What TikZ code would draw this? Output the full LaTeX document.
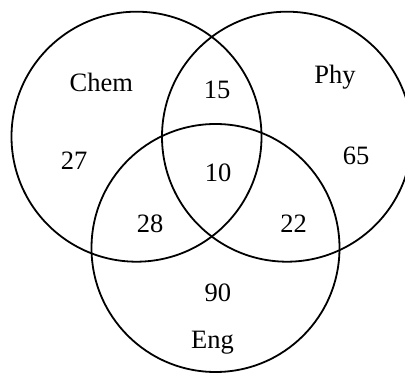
\documentclass[tikz,border=0pt]{standalone}
\usepackage{fontspec}
\setmainfont{Liberation Serif}
\begin{document}
\begin{tikzpicture}[x=1pt,y=-1pt,
  ring/.style={draw=black,line width=1.8pt},
  lbl/.style={anchor=base,inner sep=0pt,font=\fontsize{26.5}{26.5}\selectfont}]
\useasboundingbox (0,0) rectangle (405,374);
\draw[ring] (136.5,136.7) circle[radius=125];
\draw[ring] (287,136.7) circle[radius=125];
\draw[ring] (215.5,248) circle[radius=124];
\node[lbl] (chem) at (101.3,91.7) {Chem};
\node[lbl] (phy) at (335,83.3) {Phy};
\node[lbl] (eng) at (212.5,348.3) {Eng};
\node[lbl] (a) at (217,99) {15};
\node[lbl] (b) at (74,170) {27};
\node[lbl] (c) at (218,182) {10};
\node[lbl] (d) at (356,165) {65};
\node[lbl] (e) at (150,233) {28};
\node[lbl] (f) at (293.5,233) {22};
\node[lbl] (g) at (217.8,301.7) {90};
\end{tikzpicture}
\end{document}
